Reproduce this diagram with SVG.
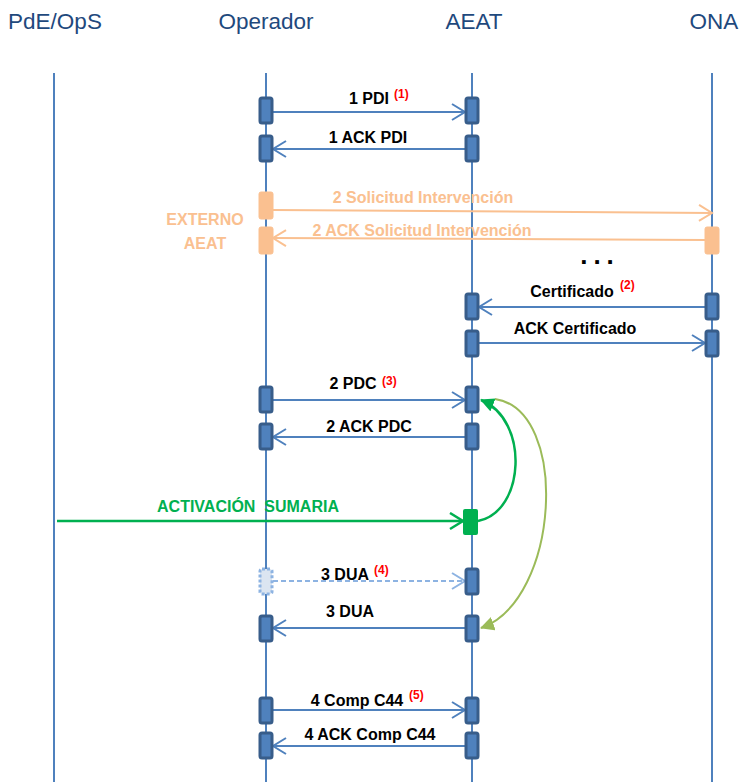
<svg xmlns="http://www.w3.org/2000/svg" width="741" height="782" viewBox="0 0 741 782">
<style>
.hdr{font-family:"Liberation Sans",Arial,sans-serif;font-size:22.5px;fill:#1f497d;text-anchor:middle}
.lbl{font-family:"Liberation Sans",Arial,sans-serif;font-size:16px;font-weight:bold;fill:#000;text-anchor:middle}
.sup{font-family:"Liberation Sans",Arial,sans-serif;font-size:12px;font-weight:bold;fill:#ff0000}
.olbl{font-family:"Liberation Sans",Arial,sans-serif;font-size:16px;font-weight:bold;fill:#fac090;text-anchor:middle}
.glbl{font-family:"Liberation Sans",Arial,sans-serif;font-size:16px;font-weight:bold;fill:#00b050;text-anchor:middle}
.life{stroke:#4f81bd;stroke-width:2;fill:none}
.box{fill:#4f81bd;stroke:#385d8a;stroke-width:3}
.obox{fill:#fac090;stroke:#fac090;stroke-width:1}
.msg{stroke:#4f81bd;stroke-width:2;fill:none;marker-end:url(#ab)}
.omsg{stroke:#fac090;stroke-width:2;fill:none;marker-end:url(#ao)}
</style>
<defs>
<marker id="ab" markerUnits="userSpaceOnUse" markerWidth="16" markerHeight="20" refX="14" refY="9" orient="auto"><path d="M1,1 L14,9 L1,17" fill="none" stroke="#4f81bd" stroke-width="2"/></marker>
<marker id="al" markerUnits="userSpaceOnUse" markerWidth="16" markerHeight="20" refX="14" refY="9" orient="auto"><path d="M1,1 L14,9 L1,17" fill="none" stroke="#8db3e2" stroke-width="2"/></marker>
<marker id="ao" markerUnits="userSpaceOnUse" markerWidth="16" markerHeight="20" refX="14" refY="9" orient="auto"><path d="M1,1 L14,9 L1,17" fill="none" stroke="#fac090" stroke-width="2"/></marker>
<marker id="ag" markerUnits="userSpaceOnUse" markerWidth="16" markerHeight="20" refX="14" refY="9" orient="auto"><path d="M1,1 L14,9 L1,17" fill="none" stroke="#00b050" stroke-width="2.5"/></marker>
<marker id="agf" markerUnits="userSpaceOnUse" markerWidth="16" markerHeight="16" refX="13" refY="7" orient="auto"><path d="M0,0 L14,7 L0,14 Z" fill="#00b050"/></marker>
<marker id="aof" markerUnits="userSpaceOnUse" markerWidth="16" markerHeight="16" refX="13" refY="7" orient="auto"><path d="M0,0 L14,7 L0,14 Z" fill="#9bbb59"/></marker>
</defs>
<rect width="741" height="782" fill="#fff"/>

<g id="lifelines">
<line class="life" x1="54" y1="73" x2="54" y2="782"/>
<line class="life" x1="266" y1="73" x2="266" y2="782"/>
<line class="life" x1="472" y1="73" x2="472" y2="782"/>
<line class="life" x1="712" y1="73" x2="712" y2="782"/>
</g>

<g id="pde"><text class="hdr" x="55" y="29">PdE/OpS</text></g>
<g id="operador"><text class="hdr" x="266" y="29">Operador</text></g>
<g id="aeat"><text class="hdr" x="474" y="29">AEAT</text></g>
<g id="ona"><text class="hdr" x="714" y="29">ONA</text></g>

<g id="connectors">
<line class="msg" x1="273" y1="112" x2="465" y2="112"/>
<line class="msg" x1="465" y1="149" x2="273" y2="149"/>
<line class="omsg" x1="273" y1="210" x2="712" y2="213"/>
<line class="omsg" x1="705" y1="240" x2="273" y2="238"/>
<line class="msg" x1="705" y1="307" x2="479" y2="307"/>
<line class="msg" x1="479" y1="343" x2="705" y2="343"/>
<line class="msg" x1="273" y1="400" x2="465" y2="400"/>
<line class="msg" x1="465" y1="437" x2="273" y2="437"/>
<line x1="57" y1="521" x2="463" y2="521" stroke="#00b050" stroke-width="2.5" marker-end="url(#ag)"/>
<path d="M478,521 C525,512 530,420 481,400" fill="none" stroke="#00b050" stroke-width="2.5" marker-end="url(#agf)"/>
<path d="M495,399 C570,410 560,600 481,628" fill="none" stroke="#9bbb59" stroke-width="2" marker-end="url(#aof)"/>
<line x1="273" y1="581" x2="465" y2="581" stroke="#8db3e2" stroke-width="2" stroke-dasharray="5,3" marker-end="url(#al)"/>
<line class="msg" x1="465" y1="628" x2="273" y2="628"/>
<line class="msg" x1="273" y1="710" x2="465" y2="710"/>
<line class="msg" x1="465" y1="746" x2="273" y2="746"/>
</g>

<g id="boxes">
<rect class="box" x="260" y="98" width="12" height="25" rx="2"/>
<rect class="box" x="466" y="98" width="12" height="25" rx="2"/>
<rect class="box" x="260" y="136" width="12" height="25" rx="2"/>
<rect class="box" x="466" y="136" width="12" height="25" rx="2"/>
<rect class="obox" x="259" y="192" width="14" height="27" rx="2"/>
<rect class="obox" x="259" y="227" width="14" height="27" rx="2"/>
<rect class="obox" x="705" y="227" width="14" height="27" rx="2"/>
<rect class="box" x="466" y="294" width="12" height="25" rx="2"/>
<rect class="box" x="706" y="294" width="12" height="25" rx="2"/>
<rect class="box" x="466" y="331" width="12" height="25" rx="2"/>
<rect class="box" x="706" y="331" width="12" height="25" rx="2"/>
<rect class="box" x="260" y="387" width="12" height="25" rx="2"/>
<rect class="box" x="466" y="387" width="12" height="25" rx="2"/>
<rect class="box" x="260" y="424" width="12" height="25" rx="2"/>
<rect class="box" x="466" y="424" width="12" height="25" rx="2"/>
<rect x="463" y="509" width="15" height="26" rx="2" fill="#00b050"/>
<rect x="260" y="569" width="12" height="25" rx="2" fill="#dbe5f1" stroke="#8db3e2" stroke-width="3" stroke-dasharray="3,2"/>
<rect class="box" x="466" y="569" width="12" height="25" rx="2"/>
<rect class="box" x="260" y="616" width="12" height="25" rx="2"/>
<rect class="box" x="466" y="616" width="12" height="25" rx="2"/>
<rect class="box" x="260" y="698" width="12" height="25" rx="2"/>
<rect class="box" x="466" y="698" width="12" height="25" rx="2"/>
<rect class="box" x="260" y="733" width="12" height="25" rx="2"/>
<rect class="box" x="466" y="733" width="12" height="25" rx="2"/>
</g>

<g id="labels">
<text class="lbl" x="369" y="104">1 PDI</text><text class="sup" x="394" y="98">(1)</text>
<text class="lbl" x="368" y="143">1 ACK PDI</text>
<text class="olbl" x="423" y="203">2 Solicitud Intervención</text>
<text class="olbl" x="422" y="236">2 ACK Solicitud Intervención</text>
<text class="olbl" x="205" y="225">EXTERNO</text>
<text class="olbl" x="205" y="249">AEAT</text>
<text x="600" y="264" font-family="Liberation Sans,Arial,sans-serif" font-size="26" font-weight="bold" fill="#000" text-anchor="middle" letter-spacing="6">...</text>
<text class="lbl" x="572" y="297">Certificado</text><text class="sup" x="620" y="289">(2)</text>
<text class="lbl" x="575" y="334">ACK Certificado</text>
<text class="lbl" x="353" y="389">2 PDC</text><text class="sup" x="382" y="385">(3)</text>
<text class="lbl" x="369" y="432">2 ACK PDC</text>
<text class="glbl" x="248" y="512" xml:space="preserve">ACTIVACIÓN  SUMARIA</text>
<text class="lbl" x="345" y="580">3 DUA</text><text class="sup" x="374" y="574">(4)</text>
<text class="lbl" x="357" y="706">4 Comp C44</text><text class="sup" x="409" y="699">(5)</text>
<text class="lbl" x="350" y="617">3 DUA</text>
<text class="lbl" x="370" y="740">4 ACK Comp C44</text>
</g>
</svg>
